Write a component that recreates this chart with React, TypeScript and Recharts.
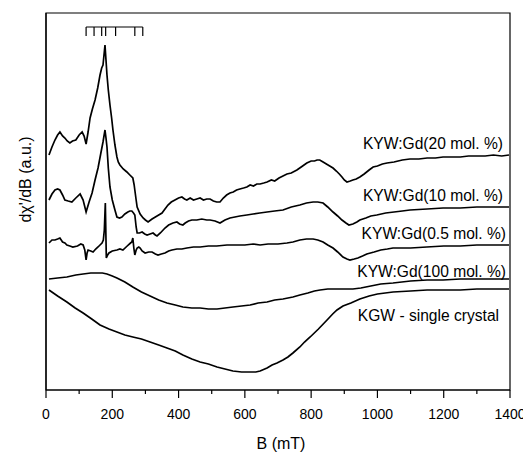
import React from "react"
import { LineChart, Line, XAxis, YAxis, ReferenceArea, ReferenceLine, ReferenceDot } from "recharts"

// field values (mT) and derivative signal (a.u., curves offset vertically)
const kyw20: [number, number][] = [
  [9, 235], [18, 243], [27, 250], [35, 255], [42, 258], [50, 254], [57, 252], [64, 249], [72, 247], [80, 249],
  [90, 250], [100, 255], [109, 258], [115, 254], [121, 246], [127, 258], [133, 272], [140, 281], [148, 290],
  [156, 302], [163, 315], [168, 322], [172, 325], [175, 335], [178, 345], [181, 330], [184, 315], [188, 300],
  [193, 285], [198, 272], [202, 260], [208, 245], [214, 233], [218, 228], [223, 225], [233, 221], [244, 218],
  [253, 215], [262, 212], [266, 205], [268, 200], [272, 190], [275, 183], [284, 176], [293, 172], [300, 170],
  [308, 168], [320, 171], [335, 174], [350, 177], [359, 181], [368, 185], [378, 188], [389, 190], [400, 192],
  [410, 193], [418, 191], [425, 190], [435, 192], [445, 190], [455, 191], [465, 192], [475, 190], [485, 191],
  [495, 191], [505, 189], [515, 188], [525, 188], [535, 192], [545, 195], [555, 197], [565, 198], [575, 200],
  [585, 201], [596, 202], [606, 203], [616, 205], [626, 204], [636, 206], [646, 206], [657, 207], [667, 208],
  [680, 210], [690, 209], [703, 212], [715, 214], [727, 216], [740, 217], [757, 220], [770, 223], [787, 227],
  [800, 229], [810, 229], [818, 230], [826, 230], [836, 228], [846, 226], [856, 224], [866, 222], [876, 219],
  [885, 216], [893, 213], [900, 210], [908, 208], [918, 209], [926, 210], [936, 211], [947, 213], [960, 216],
  [975, 220], [987, 223], [1000, 224], [1015, 226], [1029, 227], [1050, 228], [1075, 230], [1098, 231],
  [1125, 231], [1150, 232], [1175, 232], [1198, 233], [1225, 233], [1250, 233], [1275, 234], [1300, 234],
  [1325, 234], [1350, 235], [1375, 234], [1397, 235],
]

const kyw10: [number, number][] = [
  [9, 190], [18, 196], [27, 200], [35, 201], [42, 200], [50, 195], [57, 190], [67, 189], [78, 188], [90, 192],
  [103, 196], [112, 190], [121, 178], [130, 188], [139, 197], [148, 210], [157, 222], [165, 236], [172, 248],
  [178, 260], [181, 252], [184, 243], [188, 222], [193, 203], [200, 190], [208, 180], [214, 173], [222, 172],
  [229, 173], [238, 176], [247, 178], [253, 179], [259, 179], [264, 177], [268, 175], [272, 163], [275, 157],
  [282, 157], [290, 158], [298, 156], [305, 155], [314, 156], [323, 157], [330, 155], [335, 154], [345, 157],
  [359, 162], [370, 165], [383, 167], [395, 168], [403, 166], [413, 165], [420, 167], [430, 169], [440, 170],
  [455, 170], [470, 171], [485, 170], [495, 170], [510, 169], [525, 167], [540, 170], [555, 172], [570, 173],
  [585, 174], [606, 175], [625, 176], [645, 177], [667, 178], [690, 179], [715, 180], [740, 183], [766, 185],
  [786, 187], [806, 188], [820, 188], [836, 187], [850, 183], [866, 178], [880, 174], [893, 170], [905, 167],
  [914, 165], [926, 166], [938, 168], [947, 170], [965, 172], [980, 174], [998, 175], [1025, 177], [1050, 178],
  [1075, 179], [1098, 180], [1150, 181], [1198, 182], [1250, 182], [1300, 183], [1350, 183], [1397, 183],
]

const kyw05: [number, number][] = [
  [9, 147], [18, 150], [27, 150], [35, 151], [42, 152], [50, 148], [57, 147], [63, 145], [72, 144], [81, 143],
  [95, 144], [105, 146], [112, 145], [117, 140], [121, 130], [124, 137], [127, 140], [135, 139], [142, 138],
  [150, 141], [157, 143], [163, 145], [169, 147], [173, 150], [176, 160], [179, 187], [181, 150], [182, 132],
  [186, 135], [190, 137], [200, 139], [214, 140], [223, 141], [232, 140], [245, 144], [255, 147], [259, 148],
  [262, 152], [265, 142], [268, 135], [272, 140], [275, 142], [280, 143], [284, 142], [290, 139], [299, 137],
  [310, 138], [320, 138], [330, 136], [338, 135], [348, 136], [359, 137], [370, 139], [380, 140], [395, 141],
  [410, 141], [425, 142], [445, 143], [465, 143], [490, 144], [515, 144], [546, 145], [575, 145], [600, 145],
  [625, 146], [646, 145], [670, 146], [700, 146], [727, 147], [745, 148], [766, 150], [786, 151], [806, 151],
  [820, 150], [836, 148], [850, 145], [866, 142], [880, 138], [896, 133], [908, 131], [917, 130], [930, 131],
  [941, 132], [955, 134], [968, 136], [990, 138], [1010, 140], [1030, 141], [1047, 142], [1100, 142],
  [1149, 143], [1200, 144], [1250, 144], [1300, 145], [1350, 145], [1397, 145],
]

const kyw100: [number, number][] = [
  [9, 111], [35, 112], [63, 113], [90, 115], [112, 116], [135, 117], [154, 117], [170, 117], [184, 116],
  [200, 114], [214, 112], [238, 108], [262, 103], [288, 98], [314, 94], [340, 90], [365, 87], [390, 85],
  [413, 83], [440, 82], [465, 82], [490, 81], [516, 81], [540, 82], [564, 83], [590, 84], [616, 85], [640, 87],
  [667, 88], [690, 90], [715, 91], [745, 93], [766, 95], [790, 97], [810, 99], [827, 100], [850, 101],
  [880, 101], [905, 101], [926, 101], [950, 102], [980, 104], [1010, 106], [1047, 107], [1100, 109],
  [1150, 110], [1198, 110], [1250, 111], [1300, 111], [1350, 111], [1397, 111],
]

const kgw: [number, number][] = [
  [9, 100], [35, 94], [63, 88], [88, 82], [112, 77], [138, 71], [163, 65], [190, 61], [214, 58], [238, 55],
  [262, 53], [288, 51], [314, 48], [340, 45], [365, 42], [390, 39], [413, 35], [440, 31], [465, 28], [490, 26],
  [516, 23], [540, 21], [564, 19], [590, 18], [616, 18], [633, 18], [646, 19], [667, 22], [682, 25], [697, 27],
  [715, 30], [730, 33], [745, 37], [766, 43], [780, 48], [797, 53], [822, 61], [848, 70], [865, 76], [878, 80],
  [896, 84], [920, 87], [947, 91], [975, 94], [1000, 96], [1047, 98], [1100, 99], [1150, 100], [1198, 100],
  [1250, 100], [1300, 101], [1350, 101], [1397, 101],
]

const xTicks = [0, 100, 200, 300, 400, 500, 600, 700, 800, 900, 1000, 1100, 1200, 1300, 1400]

// stick diagram of line positions (mT) drawn at the top
const combPositions = [121, 145, 168, 180, 210, 268, 292]

const curveLabels = [
  { text: "KYW:Gd(20 mol. %)", x: 1379, y: 247 },
  { text: "KYW:Gd(10 mol. %)", x: 1379, y: 195 },
  { text: "KYW:Gd(0.5 mol. %)", x: 1388, y: 157 },
  { text: "KYW:Gd(100 mol. %)", x: 1388, y: 119 },
  { text: "KGW - single crystal", x: 1367, y: 75 },
]

const series = [kyw20, kyw10, kyw05, kyw100, kgw]

const font = "'Liberation Sans', Arial, sans-serif"
const COMB_TOP = 363
const COMB_BOTTOM = 354

const toPoints = (arr: [number, number][]) => arr.map(([x, y]) => ({ x, y }))

const BottomTick = ({ x, y, payload }: any) => {
  const major = payload.value % 200 === 0
  const axisY = y - 19
  return (
    <g>
      <line x1={x} x2={x} y1={axisY} y2={axisY + (major ? 8 : 4)} stroke="#000" strokeWidth={1.2} />
      {major && (
        <text x={x} y={y} dy="0.71em" textAnchor="middle" fontSize={14} fontFamily={font} fill="#000">
          {payload.value}
        </text>
      )}
    </g>
  )
}

export default function App() {
  return (
    <LineChart width={523} height={445} margin={{ top: 5, right: 21, bottom: 0, left: 0 }}>
      <XAxis
        type="number"
        dataKey="x"
        domain={[0, 1400]}
        ticks={xTicks}
        interval={0}
        height={63}
        tickSize={8}
        tickMargin={11}
        tickLine={false}
        axisLine={{ stroke: "#000", strokeWidth: 1.2 }}
        tick={<BottomTick />}
        label={({ viewBox }: any) => (
          <text
            x={viewBox.x + viewBox.width / 2 + 3}
            y={viewBox.y + 59}
            textAnchor="middle"
            fontSize={16}
            fontFamily={font}
            fill="#000"
          >
            B (mT)
          </text>
        )}
      />
      <YAxis
        type="number"
        domain={[0, 377]}
        width={38}
        tick={false}
        tickLine={false}
        axisLine={{ stroke: "#000", strokeWidth: 1.2 }}
        allowDataOverflow
        label={({ viewBox }: any) => {
          const cx = viewBox.x + 23
          const cy = viewBox.y + viewBox.height / 2 - 22
          return (
            <text
              x={cx}
              y={cy}
              transform={`rotate(-90 ${cx} ${cy})`}
              textAnchor="middle"
              fontSize={16}
              fontFamily={font}
              fill="#000"
            >
              dχ'/dB (a.u.)
            </text>
          )
        }}
      />
      <ReferenceArea x1={0} x2={1400} y1={0} y2={377} fill="none" stroke="#000" strokeWidth={1.2} />
      <ReferenceLine
        segment={[
          { x: combPositions[0], y: COMB_TOP },
          { x: combPositions[combPositions.length - 1], y: COMB_TOP },
        ]}
        stroke="#000"
        strokeWidth={1.2}
      />
      {combPositions.map((p) => (
        <ReferenceLine
          key={p}
          segment={[
            { x: p, y: COMB_TOP },
            { x: p, y: COMB_BOTTOM },
          ]}
          stroke="#000"
          strokeWidth={1.2}
        />
      ))}
      {series.map((s, i) => (
        <Line
          key={i}
          data={toPoints(s)}
          dataKey="y"
          type="linear"
          stroke="#000"
          strokeWidth={1.7}
          dot={false}
          activeDot={false}
          isAnimationActive={false}
        />
      ))}
      {curveLabels.map((l) => (
        <ReferenceDot
          key={l.text}
          x={l.x}
          y={l.y}
          r={0}
          fill="none"
          stroke="none"
          label={{ value: l.text, position: "left", offset: 0, fontSize: 15.6, fill: "#000", fontFamily: font }}
        />
      ))}
    </LineChart>
  )
}
